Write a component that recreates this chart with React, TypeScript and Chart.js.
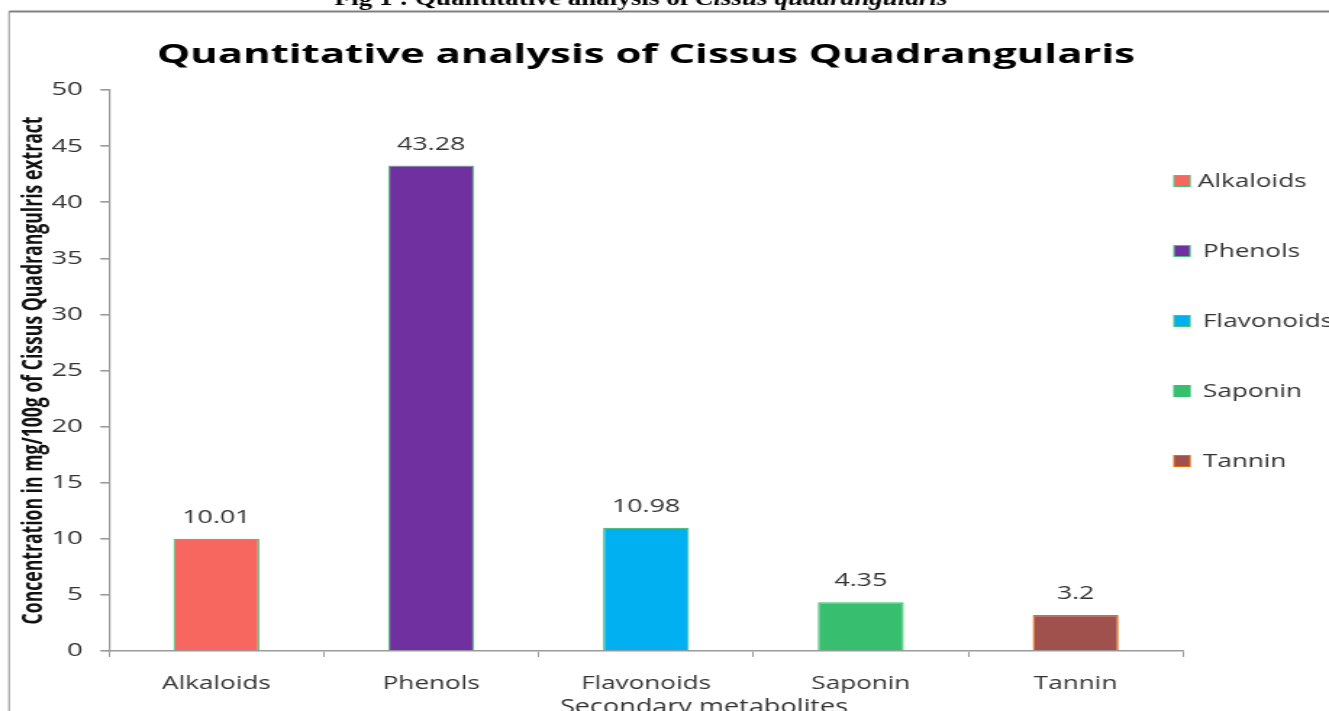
import React, { useEffect, useRef } from "react";
import { Chart, registerables } from "chart.js";

Chart.register(...registerables);

const categories = ["Alkaloids", "Phenols", "Flavonoids", "Saponin", "Tannin"];
const values = [10.01, 43.28, 10.98, 4.35, 3.2];
const barColors = ["#F8675F", "#7030A0", "#00B0F0", "#37BF6F", "#A0504D"];
const barBorders = ["#4EC27C", "#4EC27C", "#4EC27C", "#37BF6F", "#E46C0A"];
const yMin = 0;
const yMax = 50;
const yStep = 5;
const chartTitle = "Quantitative analysis of Cissus Quadrangularis";
const yTitle = "Concentration in mg/100g of Cissus Quadrangulris extract";
const xTitle = "Secondary metabolites";
const captionPlain = "Fig 1 : Quantitative analysis of ";
const captionItalic = "Cissus quadrangularis";

// The reference image is horizontally stretched: draw on a narrower canvas and stretch with CSS.
const PAGE_W = 1329;
const PAGE_H = 711;
const INNER_W = 917;
const S = PAGE_W / INNER_W;
const ix = (px: number) => px / S;

const FONT = "'Open Sans', 'Noto Sans', sans-serif";
const TEXT = "#333333";
const AXIS = "#9a9a9a";

function fitCenter(ctx: CanvasRenderingContext2D, text: string, cx: number, y: number, target: number) {
  const w = ctx.measureText(text).width;
  ctx.save();
  ctx.translate(cx, y);
  ctx.scale(target / w, 1);
  ctx.textAlign = "center";
  ctx.fillText(text, 0, 0);
  ctx.restore();
}

const decorPlugin = {
  id: "decor",
  afterDraw(chart: any) {
    const ctx: CanvasRenderingContext2D = chart.ctx;
    ctx.save();

    // frame
    ctx.strokeStyle = "#808080";
    ctx.lineWidth = 2;
    ctx.beginPath();
    ctx.moveTo(ix(9), 11.5);
    ctx.lineTo(INNER_W, 11.5);
    ctx.stroke();
    ctx.lineWidth = 1 / S * 1.4;
    ctx.strokeStyle = "#8a8a8a";
    ctx.beginPath();
    ctx.moveTo(ix(9), 11.5);
    ctx.lineTo(ix(9), PAGE_H);
    ctx.stroke();

    // caption (cut at the top)
    ctx.fillStyle = "#000";
    ctx.textBaseline = "alphabetic";
    const fA = "bold 20px 'Liberation Serif', 'Times New Roman', serif";
    const fB = "italic bold 20px 'Liberation Serif', 'Times New Roman', serif";
    ctx.font = fA;
    const wA = ctx.measureText(captionPlain).width;
    ctx.font = fB;
    const wB = ctx.measureText(captionItalic).width;
    const target = ix(948 - 335);
    const k = target / (wA + wB);
    const left = ix(641) - target / 2;
    ctx.save();
    ctx.translate(left, 5);
    ctx.scale(k, 1);
    ctx.textAlign = "left";
    ctx.font = fA;
    ctx.fillText(captionPlain, 0, 0);
    ctx.font = fB;
    ctx.fillText(captionItalic, wA, 0);
    ctx.restore();

    // title
    ctx.fillStyle = "#000";
    ctx.font = `bold 27px ${FONT}`;
    fitCenter(ctx, chartTitle, ix(646), 63, ix(1135 - 157));

    // y title (rotated)
    ctx.fillStyle = "#111";
    ctx.font = `bold 19px ${FONT}`;
    const yw = ctx.measureText(yTitle).width;
    ctx.save();
    ctx.translate(ix(41.5), 370.5);
    ctx.rotate(-Math.PI / 2);
    ctx.scale(508 / yw, 1);
    ctx.textAlign = "center";
    ctx.textBaseline = "alphabetic";
    ctx.fillText(yTitle, 0, 0);
    ctx.restore();

    // x title (cut at the bottom)
    ctx.fillStyle = TEXT;
    ctx.font = `20px ${FONT}`;
    fitCenter(ctx, xTitle, ix(704), 713, ix(288));

    // legend
    ctx.font = `18px ${FONT}`;
    ctx.textBaseline = "middle";
    ctx.textAlign = "left";
    categories.forEach((c, i) => {
      const y = 181 + 70 * i;
      ctx.fillStyle = barColors[i];
      ctx.fillRect(ix(1174), y - 5.5, ix(16), 11);
      ctx.strokeStyle = barBorders[i];
      ctx.lineWidth = 1;
      ctx.strokeRect(ix(1174), y - 5.5, ix(16), 11);
      ctx.fillStyle = TEXT;
      ctx.fillText(c, ix(i === 0 ? 1198 : 1203), y + 1);
    });

    // data labels
    const meta = chart.getDatasetMeta(0);
    ctx.font = `18.5px ${FONT}`;
    ctx.textAlign = "center";
    ctx.textBaseline = "middle";
    ctx.fillStyle = TEXT;
    meta.data.forEach((bar: any, i: number) => {
      ctx.fillText(String(values[i]), bar.x, bar.y - 21);
    });

    ctx.restore();
  },
};

export default function App() {
  const ref = useRef<HTMLCanvasElement>(null);
  useEffect(() => {
    const canvas = ref.current!;
    const chart = new Chart(canvas, {
      type: "bar",
      data: {
        labels: categories,
        datasets: [
          {
            label: "Concentration",
            data: values,
            backgroundColor: barColors,
            borderColor: barBorders,
            borderWidth: 1.2,
            categoryPercentage: 1,
            barPercentage: 0.4,
          },
        ],
      },
      options: {
        responsive: false,
        animation: false,
        devicePixelRatio: 1,
        layout: { padding: { left: 0, right: INNER_W - ix(1183), top: 90, bottom: 0 } },
        plugins: {
          legend: { display: false },
          title: { display: false },
          tooltip: { enabled: false },
        },
        scales: {
          x: {
            grid: { drawOnChartArea: false, drawTicks: true, tickLength: 6, color: AXIS, lineWidth: 1, offset: true },
            border: { display: true, color: AXIS, width: 1.6 },
            ticks: { color: TEXT, font: { family: FONT, size: 18 }, padding: 16, maxRotation: 0 },
            afterFit: (s: any) => {
              s.height = 60;
            },
          },
          y: {
            min: yMin,
            max: yMax,
            grid: { drawOnChartArea: false, drawTicks: true, tickLength: 6, color: AXIS, lineWidth: 1.6 },
            border: { display: true, color: AXIS, width: 1.2 },
            ticks: { stepSize: yStep, color: TEXT, font: { family: FONT, size: 19 }, padding: 12 },
            afterFit: (s: any) => {
              s.width = ix(109);
            },
          },
        },
      },
      plugins: [decorPlugin],
    });
    return () => chart.destroy();
  }, []);

  return (
    <canvas
      ref={ref}
      width={INNER_W}
      height={PAGE_H}
      style={{ position: "absolute", left: 0, top: 0, width: PAGE_W + "px", height: PAGE_H + "px" }}
    />
  );
}
